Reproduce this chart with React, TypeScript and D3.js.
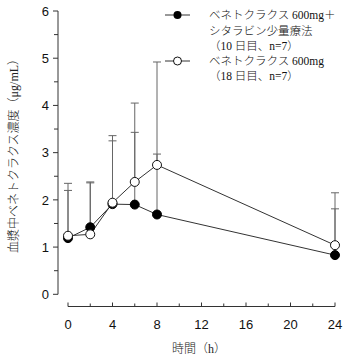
import React from "react";
import * as d3 from "d3";

const times = [0, 2, 4, 6, 8, 24];
const comboMean = [1.19, 1.42, 1.91, 1.9, 1.69, 0.83];
const comboUpper = [2.2, 2.36, 3.25, 3.43, 2.97, 1.81];
const monoMean = [1.24, 1.27, 1.94, 2.38, 2.74, 1.04];
const monoUpper = [2.35, 2.38, 3.36, 4.05, 4.92, 2.15];
const yTicks = [0, 1, 2, 3, 4, 5, 6];
const yMinor = [0.5, 1.5, 2.5, 3.5, 4.5, 5.5];
const xTicks = [0, 4, 8, 12, 16, 20, 24];
const xMinor = [2, 6, 10, 14, 18, 22];
const legendCombo = ["ベネトクラクス 600mg＋", "シタラビン少量療法", "（10 日目、n=7）"];
const legendMono = ["ベネトクラクス 600mg", "（18 日目、n=7）"];
const yLabel = "血漿中ベネトクラクス濃度（μg/mL）";
const xLabel = "時間（h）";

export default function App() {
  const W = 348, H = 362;
  const x = d3.scaleLinear().domain([0, 24]).range([68, 335]);
  const y = d3.scaleLinear().domain([0, 6]).range([294.3, 11]);
  const axisX = 58;
  const axisY = 306.5;
  const line = d3.line<number>().x((_, i) => x(times[i])).y((d) => y(d));
  const sans = "'Liberation Sans', Arial, sans-serif";
  const serif = "'Liberation Serif', 'Noto Sans CJK JP', serif";
  const lineCol = "#333";
  const ebCol = "#666";

  const errBars = (means: number[], ups: number[], key: string) =>
    times.map((t, i) => (
      <g key={key + i} stroke={ebCol} strokeWidth={1}>
        <line x1={x(t)} x2={x(t)} y1={y(means[i])} y2={y(ups[i])} />
        <line x1={x(t) - 4} x2={x(t) + 4} y1={y(ups[i])} y2={y(ups[i])} />
      </g>
    ));

  return (
    <svg width={W} height={H} style={{ position: "absolute", left: 0, top: 0, background: "#fff" }}>
      <rect width={W} height={H} fill="#fff" />
      {/* Y axis */}
      <line x1={axisX} x2={axisX} y1={y(6)} y2={y(0)} stroke="#333" />
      {yTicks.map((t) => (
        <g key={"yt" + t}>
          <line x1={axisX - 5} x2={axisX} y1={y(t)} y2={y(t)} stroke="#333" />
          <text x={axisX - 9} y={y(t)} dy="0.36em" textAnchor="end" fontFamily={sans} fontSize={13} fill="#111">
            {t}
          </text>
        </g>
      ))}
      {yMinor.map((t) => (
        <line key={"ym" + t} x1={axisX - 4} x2={axisX} y1={y(t)} y2={y(t)} stroke="#333" />
      ))}
      {/* X axis */}
      <line x1={x(0)} x2={x(24)} y1={axisY} y2={axisY} stroke="#333" />
      {xTicks.map((t) => (
        <g key={"xt" + t}>
          <line x1={x(t)} x2={x(t)} y1={axisY} y2={axisY - 4} stroke="#333" />
          <text x={x(t)} y={axisY + 18} dy="0.36em" textAnchor="middle" fontFamily={sans} fontSize={13} fill="#111">
            {t}
          </text>
        </g>
      ))}
      {xMinor.map((t) => (
        <line key={"xm" + t} x1={x(t)} x2={x(t)} y1={axisY} y2={axisY - 3} stroke="#333" />
      ))}
      {/* Axis titles */}
      <text
        transform={`translate(14, 153) rotate(-90)`}
        textAnchor="middle"
        dy="0.36em"
        fontFamily={serif}
        fontSize={12}
        fontWeight={300}
        fill="#222"
      >
        {yLabel}
      </text>
      <text x={199} y={349} dy="0.36em" textAnchor="middle" fontFamily={serif} fontSize={12} fontWeight={300} fill="#222">
        {xLabel}
      </text>
      {/* Error bars */}
      {errBars(comboMean, comboUpper, "c")}
      {errBars(monoMean, monoUpper, "m")}
      {/* Lines */}
      <path d={line(comboMean) || ""} fill="none" stroke={lineCol} strokeWidth={1} />
      <path d={line(monoMean) || ""} fill="none" stroke={lineCol} strokeWidth={1} />
      {/* Markers */}
      {comboMean.map((v, i) => (
        <circle key={"cc" + i} cx={x(times[i])} cy={y(v)} r={4.5} fill="#000" stroke="#000" />
      ))}
      {monoMean.map((v, i) => (
        <circle key={"mc" + i} cx={x(times[i])} cy={y(v)} r={4.5} fill="#fff" stroke="#111" />
      ))}
      {/* Legend */}
      <g>
        <line x1={165} x2={190} y1={15} y2={15} stroke={lineCol} />
        <circle cx={177.5} cy={15} r={4} fill="#000" />
        {legendCombo.map((s, i) => (
          <text key={"lc" + i} x={209} y={15 + i * 15.5} dy="0.36em" fontFamily={serif} fontSize={11.5} fontWeight={300} fill="#111">
            {s}
          </text>
        ))}
        <line x1={165} x2={190} y1={61} y2={61} stroke={lineCol} />
        <circle cx={177.5} cy={61} r={4} fill="#fff" stroke="#111" />
        {legendMono.map((s, i) => (
          <text key={"lm" + i} x={209} y={61 + i * 15} dy="0.36em" fontFamily={serif} fontSize={11.5} fontWeight={300} fill="#111">
            {s}
          </text>
        ))}
      </g>
    </svg>
  );
}
